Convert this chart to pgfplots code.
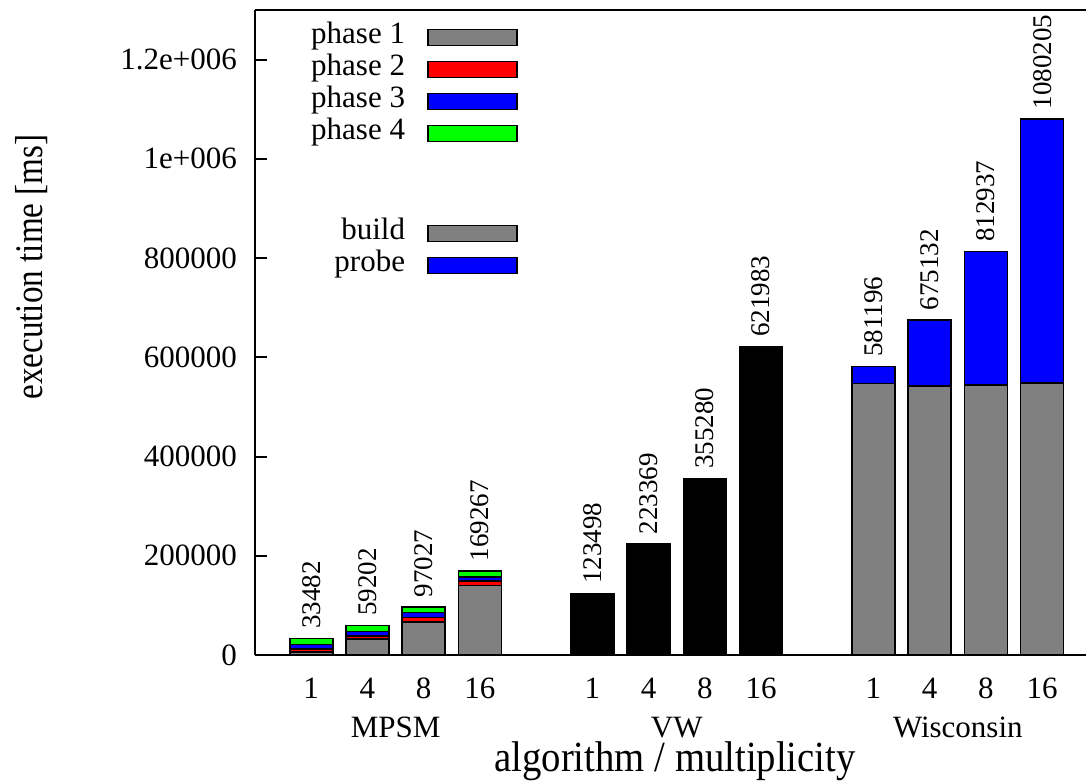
\documentclass[border=0pt]{standalone}
\usepackage{pgfplots}
\pgfplotsset{compat=1.18}
\usepackage{fontspec}
\setmainfont{Liberation Serif}
\newfontfamily\labelfont{Liberation Serif}[FakeStretch=0.9]
\newfontfamily\ylabelfont{Liberation Serif}[FakeStretch=0.85]
\definecolor{pgray}{RGB}{128,128,128}
\definecolor{pred}{RGB}{255,0,0}
\definecolor{pblue}{RGB}{0,0,255}
\definecolor{pgreen}{RGB}{0,255,0}
\pgfplotsset{
  common/.style={
    scale only axis, width=415.5pt, height=322.5pt,
    at={(127.5pt,63.5pt)}, anchor=south west,
    xmin=-1, xmax=13.78, ymin=0, ymax=1300000,
    bar width=21.5pt,
    every axis plot/.append style={draw=black, line width=0.8pt},
  },
  mylegend/.style={
    legend plot pos=right, legend cell align=right,
    legend style={draw=none, fill=none, inner sep=0pt, column sep=11pt, row sep=0pt,
      font=\fontsize{15.5}{18}\selectfont,
      nodes={inner sep=0pt, text height=11pt, text depth=5pt}},
    legend image code/.code={\draw[##1] (0pt,-4pt) rectangle (44.5pt,4pt);},
  },
}
\begin{document}
\begin{tikzpicture}
\useasboundingbox (0,0) rectangle (543pt,391pt);
% MPSM (main axis)
\begin{axis}[common, ybar stacked, mylegend,
  axis y line*=left, axis x line*=box,
  axis line style={-, line width=1pt},
  tick align=inside, major tick length=6pt,
  ytick style={line width=1pt, black},
  xtick style={draw=none},
  xtick={0,1,2,3,5,6,7,8,10,11,12,13},
  xticklabels={1,4,8,16,1,4,8,16,1,4,8,16},
  ytick={0,200000,400000,600000,800000,1000000,1200000},
  yticklabels={0,200000,400000,600000,800000,1e+006,1.2e+006},
  scaled y ticks=false,
  /pgf/number format/assume math mode=true,
  ticklabel style={font=\fontsize{15.5}{18}\selectfont},
  xticklabel style={anchor=base, yshift=-21.75pt},
  yticklabel style={xshift=-5.5pt},
  legend style={at={(0.3165,0.983)}, anchor=north east},
  clip=false,
]
\addplot[fill=pgray] coordinates {(0,6000) (1,32000) (2,67000) (3,140000)};
\addplot[fill=pred] coordinates {(0,6500) (1,6500) (2,8500) (3,9000)};
\addplot[fill=pblue] coordinates {(0,9000) (1,8500) (2,10000) (3,8500)};
\addplot[fill=pgreen] coordinates {(0,11982) (1,12202) (2,11527) (3,11767)};
\legend{phase 1, phase 2, phase 3, phase 4}
\node[anchor=base, inner sep=0pt, text depth=0pt, font=\fontsize{15.5}{18}\selectfont] at (axis cs:1.5,0) [yshift=-41pt] {MPSM};
\node[anchor=base, inner sep=0pt, text depth=0pt, font=\fontsize{15.5}{18}\selectfont] at (axis cs:6.5,0) [yshift=-41pt] {VW};
\node[anchor=base, inner sep=0pt, text depth=0pt, font=\fontsize{15.5}{18}\selectfont] at (axis cs:11.5,0) [yshift=-41pt] {Wisconsin};
\node[anchor=base, inner sep=0pt, text height=13pt, font=\labelfont\fontsize{21.5}{24}\selectfont] at (axis cs:6.47,0) [yshift=-58pt] {algorithm / multiplicity};
\end{axis}
% Wisconsin
\begin{axis}[common, hide axis, ybar stacked, mylegend,
  legend style={at={(0.3165,0.679)}, anchor=north east}]
\addplot[fill=pgray] coordinates {(10,547000) (11,542000) (12,544000) (13,548000)};
\addplot[fill=pblue] coordinates {(10,34196) (11,133132) (12,268937) (13,532205)};
\legend{build, probe}
\end{axis}
% VW and value labels
\begin{axis}[common, hide axis, ybar, bar shift=0pt,
  nodes near coords style={font=\fontsize{13.5}{16}\selectfont, rotate=90, anchor=west, inner sep=0pt, inner xsep=4.5pt, text=black}]
\addplot[fill=black] coordinates {(5,123498) (6,223369) (7,355280) (8,621983)};
\addplot[draw=none, fill=none, nodes near coords, point meta=explicit symbolic] coordinates {
  (0,33482) [33482] (1,59202) [59202] (2,97027) [97027] (3,169267) [169267]
  (5,123498) [123498] (6,223369) [223369] (7,355280) [355280] (8,621983) [621983]
  (10,581196) [581196] (11,675132) [675132] (12,812937) [812937] (13,1080205) [1080205]};
\end{axis}
\node[rotate=90, font=\ylabelfont\fontsize{19.5}{22}\selectfont] at (16pt,257.5pt) {execution time [ms]};
\end{tikzpicture}
\end{document}
